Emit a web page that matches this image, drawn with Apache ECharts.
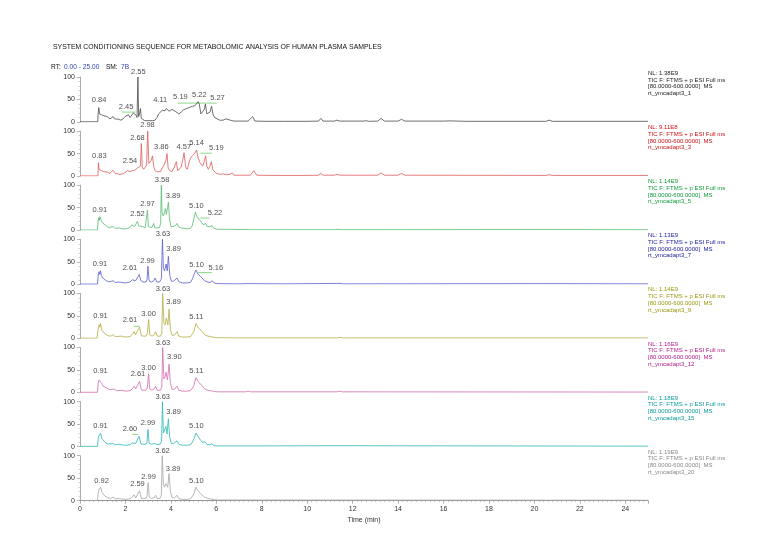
<!DOCTYPE html>
<html><head><meta charset="utf-8">
<script src="https://cdn.jsdelivr.net/npm/echarts@6/dist/echarts.min.js"></script>
<style>html,body{margin:0;padding:0;background:#fff}#c{width:780px;height:560px}</style>
</head><body><div id="c"></div>
<script>
const chartTitle = 'SYSTEM CONDITIONING SEQUENCE FOR METABOLOMIC ANALYSIS OF HUMAN PLASMA SAMPLES';
const rtRange = '0.00 - 25.00';
const smValue = '7B';
const xAxisName = 'Time (min)';
const yTicks = [0, 50, 100];
const xTickStep = 2;
const nlValues = ['1.38E9','9.11E8','1.14E9','1.13E9','1.14E9','1.16E9','1.18E9','1.19E9'];
const fileIds = ['1','3','5','7','9','12','15','20'];
const scanFilter = 'TIC F: FTMS + p ESI Full ms';
const massRange = '[80.0000-600.0000]  MS';
const traceColors = ['#4a4a4a','#e05a5a','#55bb72','#5a5ad0','#b4ac40','#d06cb0','#2cb8b8','#a4a4a4'];
const textColors  = ['#222222','#cc1111','#129a3a','#1c1c9c','#999910','#b0208a','#0a9a9a','#888888'];

const trace1 = [[0,0.5],[0.78,0.5],[0.80,20],[0.83,32],[0.86,18],[0.90,14],[0.95,16],[1.0,12],[1.05,14],[1.12,11],[1.2,12],[1.28,9],[1.32,7],[1.40,9],[1.46,12],[1.52,7],[1.6,5],[1.7,6],[1.8,4],[1.9,7],[1.98,12],[2.05,9],[2.13,16],[2.2,10],[2.28,14],[2.35,20],[2.42,16],[2.47,15],[2.51,10],[2.53,12],[2.55,100],[2.58,12],[2.62,18],[2.66,30],[2.70,8],[2.75,4],[2.85,3],[3.0,3],[3.2,3],[3.3,4],[3.39,10],[3.46,18],[3.54,22],[3.62,26],[3.68,30],[3.74,25],[3.8,30],[3.85,32],[3.92,24],[4.0,26],[4.05,28],[4.12,30],[4.18,24],[4.24,20],[4.35,18],[4.45,22],[4.55,27],[4.7,30],[4.85,33],[4.95,35],[5.05,36],[5.13,38],[5.20,45],[5.25,40],[5.32,18],[5.40,16],[5.47,28],[5.52,40],[5.58,18],[5.65,14],[5.72,22],[5.79,35],[5.85,18],[5.92,10],[6.0,6],[6.15,4],[6.3,4],[6.42,7],[6.5,3],[6.62,4],[6.70,6],[6.78,2],[7.0,2],[7.4,2],[7.6,12],[7.7,2],[8.2,1.5],[9.0,1.5],[10.0,1.5],[10.5,2],[10.6,8],[10.7,2],[11.2,2],[11.3,4],[11.45,2],[12.5,2],[12.6,3],[12.7,1.5],[13.1,2],[13.25,8],[13.4,2],[14.0,2],[14.15,6],[14.3,2],[16.0,2],[16.3,2.5],[17.0,1.5],[20.5,1.5],[20.65,4],[20.8,1.5],[25,1.5]];
const trace2 = [[0,0.5],[0.79,0.5],[0.81,30],[0.84,15],[0.9,14],[0.95,12],[1.0,14],[1.05,10],[1.1,12],[1.2,9],[1.3,6],[1.46,13],[1.55,6],[1.61,5],[1.76,4],[1.9,5],[1.98,8],[2.09,12],[2.15,9],[2.2,10],[2.3,12],[2.4,13],[2.47,11],[2.53,18],[2.6,15],[2.66,22],[2.70,72],[2.74,20],[2.8,15],[2.87,20],[2.93,25],[2.98,100],[3.03,28],[3.09,25],[3.14,35],[3.19,45],[3.25,20],[3.31,12],[3.4,10],[3.54,10],[3.62,18],[3.7,25],[3.78,35],[3.83,50],[3.88,18],[3.95,12],[4.05,10],[4.15,20],[4.24,32],[4.3,12],[4.36,12],[4.45,20],[4.52,35],[4.58,52],[4.65,20],[4.72,15],[4.8,30],[4.86,40],[4.94,45],[5.04,50],[5.13,58],[5.2,40],[5.28,30],[5.34,26],[5.4,22],[5.48,35],[5.53,45],[5.58,22],[5.65,15],[5.72,22],[5.78,32],[5.85,14],[5.92,10],[6.0,6],[6.15,4],[6.3,5],[6.45,3],[6.6,4],[6.7,7],[6.78,2],[7.0,2],[7.5,2],[7.65,12],[7.78,2],[8.5,1.5],[10.0,1.5],[10.5,2],[10.6,6],[10.7,2],[11.2,2],[11.3,4],[11.45,2],[13.1,2],[13.25,7],[13.4,2],[14.0,2],[14.15,6],[14.3,2],[20.5,1.5],[20.65,3],[20.8,1.5],[25,1.5]];
const trace3 = [[0,0.5],[0.77,0.5],[0.80,20],[0.83,28],[0.85,22],[0.88,30],[0.92,24],[0.96,18],[1.02,15],[1.1,12],[1.17,8],[1.25,6],[1.32,6],[1.46,8],[1.55,4],[1.61,4],[1.76,5],[1.85,3],[2.0,3],[2.1,4],[2.2,6],[2.28,12],[2.34,8],[2.4,8],[2.47,12],[2.53,20],[2.58,10],[2.66,8],[2.77,8],[2.87,5],[2.93,8],[2.97,45],[3.01,8],[3.09,5],[3.17,6],[3.24,15],[3.3,5],[3.4,5],[3.5,6],[3.55,15],[3.58,100],[3.61,40],[3.66,32],[3.71,38],[3.76,48],[3.8,35],[3.84,45],[3.89,62],[3.94,25],[4.0,8],[4.1,8],[4.2,10],[4.27,15],[4.33,8],[4.45,5],[4.6,4],[4.72,3],[4.86,4],[4.94,10],[5.01,25],[5.08,40],[5.15,30],[5.23,25],[5.34,18],[5.43,12],[5.53,15],[5.6,8],[5.72,8],[5.82,10],[5.9,4],[6.05,2],[6.5,2],[7.0,1.5],[7.3,2],[7.4,1],[9,1],[11.2,1],[11.35,2],[11.5,1],[20.6,1.5],[25,1]];
const trace4 = [[0,0.5],[0.77,0.5],[0.80,18],[0.84,28],[0.87,22],[0.9,30],[0.94,20],[0.98,15],[1.05,12],[1.15,8],[1.25,6],[1.35,6],[1.46,8],[1.55,4],[1.7,5],[1.83,4],[2.0,3],[2.2,5],[2.3,10],[2.38,14],[2.45,8],[2.53,10],[2.61,22],[2.68,8],[2.77,5],[2.9,5],[2.95,10],[2.99,40],[3.04,8],[3.15,5],[3.25,8],[3.31,14],[3.38,5],[3.5,5],[3.58,12],[3.63,100],[3.67,35],[3.72,30],[3.79,45],[3.84,30],[3.89,62],[3.95,20],[4.02,7],[4.12,7],[4.2,10],[4.27,14],[4.35,6],[4.5,3],[4.7,3],[4.86,4],[4.95,12],[5.02,22],[5.1,32],[5.2,22],[5.3,18],[5.38,14],[5.48,8],[5.55,12],[5.62,5],[5.72,4],[5.82,8],[5.9,3],[6.05,1.5],[7.0,1],[7.4,1.5],[9,1],[11.4,2],[11.6,1],[20.6,1.5],[25,1]];
const trace5 = [[0,0.5],[0.75,0.5],[0.78,15],[0.84,30],[0.87,25],[0.9,33],[0.96,18],[1.02,14],[1.1,10],[1.24,6],[1.35,5],[1.46,8],[1.55,4],[1.61,4],[1.83,5],[2.0,3],[2.2,4],[2.3,9],[2.38,15],[2.44,8],[2.52,10],[2.62,25],[2.7,6],[2.8,5],[2.9,5],[2.96,10],[3.02,42],[3.07,8],[3.17,5],[3.27,8],[3.33,15],[3.4,5],[3.54,5],[3.6,12],[3.64,100],[3.69,35],[3.74,30],[3.8,45],[3.83,48],[3.87,30],[3.92,65],[3.98,20],[4.05,7],[4.15,7],[4.22,10],[4.27,15],[4.35,5],[4.5,3],[4.7,3],[4.86,4],[4.95,10],[5.01,15],[5.1,33],[5.2,24],[5.28,20],[5.38,15],[5.48,8],[5.55,12],[5.63,5],[5.75,4],[5.82,8],[5.93,2],[6.1,1.5],[7.0,1],[8.8,1],[11.3,1],[11.4,2],[11.55,1],[25,1]];
const trace6 = [[0,0.5],[0.77,0.5],[0.80,20],[0.84,28],[0.87,30],[0.91,32],[0.96,20],[1.02,14],[1.1,12],[1.17,10],[1.32,6],[1.48,8],[1.61,4],[1.83,5],[2.0,3],[2.2,4],[2.3,8],[2.38,14],[2.45,8],[2.52,10],[2.62,25],[2.7,6],[2.8,5],[2.9,5],[2.96,10],[3.02,42],[3.07,8],[3.17,5],[3.27,8],[3.33,14],[3.4,5],[3.54,5],[3.6,12],[3.64,100],[3.69,30],[3.75,35],[3.79,45],[3.85,28],[3.92,63],[3.98,20],[4.05,7],[4.15,7],[4.22,10],[4.27,14],[4.35,5],[4.5,3],[4.7,3],[4.86,4],[4.95,10],[5.01,15],[5.1,33],[5.2,24],[5.28,20],[5.38,15],[5.48,8],[5.55,12],[5.63,5],[5.75,4],[5.82,8],[5.93,2],[6.1,1.5],[7.3,1.5],[7.4,3],[7.5,1.5],[11.3,1.5],[11.4,3],[11.55,1.5],[25,1]];
const trace7 = [[0,0.5],[0.77,0.5],[0.80,18],[0.84,25],[0.87,22],[0.91,30],[0.96,18],[1.02,14],[1.1,10],[1.2,6],[1.32,6],[1.46,7],[1.55,4],[1.7,5],[1.83,4],[2.0,3],[2.2,4],[2.3,8],[2.38,11],[2.45,7],[2.52,9],[2.6,23],[2.68,6],[2.8,5],[2.9,5],[2.95,10],[2.99,38],[3.04,8],[3.15,5],[3.25,7],[3.31,11],[3.38,5],[3.52,5],[3.59,12],[3.63,100],[3.67,30],[3.72,32],[3.78,45],[3.83,28],[3.89,62],[3.95,20],[4.02,7],[4.12,7],[4.2,9],[4.27,13],[4.35,5],[4.5,3],[4.7,3],[4.86,4],[4.95,10],[5.02,18],[5.1,30],[5.2,22],[5.3,15],[5.4,9],[5.5,11],[5.58,5],[5.7,4],[5.8,6],[5.9,2],[6.05,1.5],[7.4,1.5],[11.4,2],[25,1]];
const trace8 = [[0,0.5],[0.77,0.5],[0.80,15],[0.84,25],[0.87,22],[0.91,30],[0.97,18],[1.02,14],[1.1,10],[1.24,6],[1.35,5],[1.46,8],[1.55,4],[1.7,5],[1.83,4],[2.0,3],[2.2,4],[2.3,8],[2.38,13],[2.45,6],[2.52,9],[2.62,22],[2.7,5],[2.8,5],[2.9,5],[2.95,10],[3.0,40],[3.05,8],[3.15,5],[3.27,7],[3.33,12],[3.4,5],[3.52,5],[3.58,12],[3.62,100],[3.67,35],[3.72,30],[3.78,38],[3.82,42],[3.86,30],[3.92,60],[3.98,20],[4.05,7],[4.15,6],[4.22,9],[4.27,12],[4.35,5],[4.5,3],[4.7,3],[4.86,4],[4.95,10],[5.01,15],[5.1,30],[5.2,22],[5.3,16],[5.38,15],[5.48,8],[5.55,11],[5.63,5],[5.75,4],[5.82,7],[5.93,2],[6.1,1.5],[25,1]];
const traces = [trace1, trace2, trace3, trace4, trace5, trace6, trace7, trace8];

// peak labels: [text, label time position, label height position]
const peaks1 = [['0.84',0.84,38],['2.45',2.03,23],['2.55',2.57,101],['4.11',3.53,38],['5.19',4.42,46],['5.22',5.25,50],['5.27',6.05,44]];
const peaks2 = [['0.83',0.85,35],['2.54',2.2,24],['2.68',2.53,75],['2.98',2.97,103],['3.86',3.58,54],['4.57',4.57,55],['5.14',5.13,64],['5.19',6.0,52]];
const peaks3 = [['0.91',0.87,35],['2.52',2.53,26],['2.97',2.97,48],['3.58',3.61,101],['3.89',4.1,66],['5.10',5.12,43],['5.22',5.94,29]];
const peaks4 = [['0.91',0.88,35],['2.61',2.2,27],['2.99',2.97,42],['3.63',3.65,101],['3.89',4.12,68],['5.10',5.13,33],['5.16',5.98,27]];
const peaks5 = [['0.91',0.9,39],['2.61',2.2,30],['3.00',3.02,45],['3.63',3.65,101],['3.89',4.12,70],['5.11',5.12,37]];
const peaks6 = [['0.91',0.9,38],['2.61',2.55,32],['3.00',3.02,45],['3.63',3.65,101],['3.90',4.15,69],['5.11',5.12,38]];
const peaks7 = [['0.91',0.9,35],['2.60',2.2,30],['2.99',2.99,43],['3.63',3.64,101],['3.89',4.12,68],['5.10',5.12,35]];
const peaks8 = [['0.92',0.95,35],['2.59',2.53,28],['2.99',3.02,43],['3.62',3.63,101],['3.89',4.1,61],['5.10',5.12,35]];
const peaks = [peaks1, peaks2, peaks3, peaks4, peaks5, peaks6, peaks7, peaks8];

// label leader lines: [from time, to time, height]
const leaders = [[[1.85,2.45,22],[4.3,6.0,42]], [[5.3,5.8,51]], [[5.3,5.7,27]], [[5.2,5.8,26]], [[2.35,2.62,27]], [], [[2.3,2.57,27]], []];

const FONT = 'Liberation Sans, Arial, sans-serif';
const n = traces.length;
const zero0 = 122, step = 54.1, ph = 45;
const grids = [], xAxes = [], yAxes = [], series = [], graphics = [];

for (let i = 0; i < n; i++) {
  const zero = zero0 + step * i;
  const last = i === n - 1;
  grids.push({ left: 80, right: 132, top: zero - ph, height: ph });
  xAxes.push({
    type: 'value', gridIndex: i, min: 0, max: 25, interval: xTickStep,
    show: true,
    axisLine: { show: last, lineStyle: { color: '#777', width: 0.8 } },
    axisTick: { show: last, length: 3, lineStyle: { color: '#777', width: 0.6 } },
    minorTick: { show: last, splitNumber: 10, length: 1.5, lineStyle: { color: '#999', width: 0.5 } },
    axisLabel: { show: last, fontSize: 7, color: '#333', fontFamily: FONT, margin: 5, showMaxLabel: false,
      formatter: v => (v % xTickStep === 0 ? String(v) : '') },
    splitLine: { show: false },
    name: last ? xAxisName : '', nameLocation: 'middle', nameGap: 16,
    nameTextStyle: { fontSize: 7, color: '#333', fontFamily: FONT }
  });
  yAxes.push({
    type: 'value', gridIndex: i, min: yTicks[0], max: yTicks[yTicks.length - 1], interval: yTicks[1] - yTicks[0],
    axisLine: { show: true, lineStyle: { color: '#888', width: 0.7 } },
    axisTick: { show: true, length: 3, lineStyle: { color: '#888', width: 0.6 } },
    minorTick: { show: true, splitNumber: 5, length: 1.5, lineStyle: { color: '#aaa', width: 0.5 } },
    axisLabel: { fontSize: 7, color: '#333', fontFamily: FONT, margin: 5 },
    splitLine: { show: false }
  });
  series.push({
    type: 'line', xAxisIndex: i, yAxisIndex: i, data: traces[i], showSymbol: false, symbol: 'none',
    lineStyle: { color: traceColors[i], width: 0.8 }, silent: true, animation: false, z: 2
  });
  leaders[i].forEach(l => {
    series.push({
      type: 'line', xAxisIndex: i, yAxisIndex: i, data: [[l[0], l[2]], [l[1], l[2]]], symbol: 'none',
      lineStyle: { color: '#6ccf6c', width: 0.8 }, silent: true, animation: false, z: 1
    });
  });
  series.push({
    type: 'scatter', xAxisIndex: i, yAxisIndex: i, symbolSize: 1, silent: true, animation: false, clip: false,
    itemStyle: { color: 'rgba(0,0,0,0)' },
    data: peaks[i].map(p => ({ name: p[0], value: [p[1], p[2]] })),
    label: { show: true, position: 'top', distance: 0, formatter: '{b}', fontSize: 7.5, color: '#222', fontFamily: FONT },
    z: 3
  });
  graphics.push({
    type: 'text', left: 648, top: zero - 52,
    style: {
      text: ['NL: ' + nlValues[i], scanFilter, massRange, 'rt_ymcadapt3_' + fileIds[i]].join('\n'),
      fill: textColors[i], font: '6px ' + FONT, lineHeight: 6.7
    }
  });
}

graphics.push({ type: 'text', left: 53, top: 44, style: { text: chartTitle, fill: '#111', font: '6.9px ' + FONT } });
graphics.push({ type: 'text', left: 51, top: 61, style: {
  text: '{k|RT:} {v|' + rtRange + '}  {k|SM:} {v|' + smValue + '}',
  rich: { k: { fill: '#111', font: '6.6px ' + FONT }, v: { fill: '#2b3fb0', font: '6.6px ' + FONT } }
} });

const chart = echarts.init(document.getElementById('c'), null, { renderer: 'canvas' });
chart.setOption({ backgroundColor: '#fff', animation: false, grid: grids, xAxis: xAxes, yAxis: yAxes, series: series, graphic: graphics });
</script></body></html>
